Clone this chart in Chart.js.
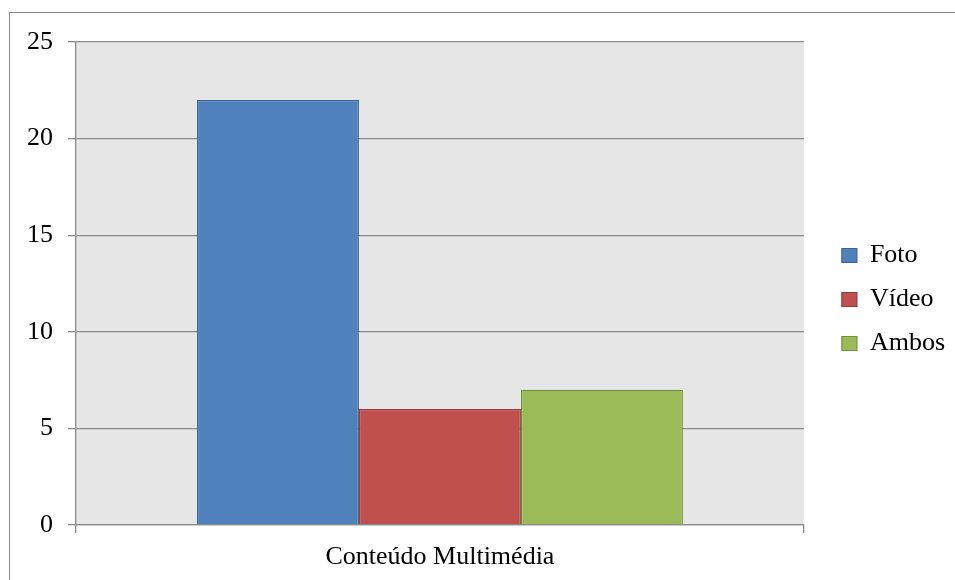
<!DOCTYPE html>
<html>
<head>
<meta charset="utf-8">
<script src="https://cdn.jsdelivr.net/npm/chart.js@4/dist/chart.umd.min.js"></script>
<style>
  html, body { margin: 0; padding: 0; background: #fff; width: 955px; height: 580px; overflow: hidden; }
  #frame { position: absolute; left: 9px; top: 12px; width: 946px; height: 568px; border-left: 1px solid #8a8a8a; border-top: 1px solid #8a8a8a; box-sizing: border-box; }
  #c { position: absolute; left: 0; top: 0; }
</style>
</head>
<body>
<div id="frame"></div>
<canvas id="c" width="955" height="580"></canvas>
<script>
const categories = ["Conteúdo Multimédia"];
const seriesNames = ["Foto", "Vídeo", "Ambos"];
const fotoValues = [22];
const videoValues = [6];
const ambosValues = [7];
const yTicks = [0, 5, 10, 15, 20, 25];

const fills = ["#4f81bd", "#c0504d", "#9bbb59"];
const borders = ["#3a6496", "#8e3b39", "#74903f"];
const seriesValues = [fotoValues, videoValues, ambosValues];

const FONT = { family: "'Liberation Serif', 'Times New Roman', serif", size: 26 };
const GRID = "#8a8a8a";

const plotBg = {
  id: "plotBg",
  beforeDraw(chart) {
    const a = chart.chartArea, ctx = chart.ctx;
    ctx.save();
    ctx.fillStyle = "#e6e6e6";
    ctx.fillRect(a.left, a.top, a.right - a.left, a.bottom - a.top);
    ctx.restore();
  }
};

new Chart(document.getElementById("c"), {
  type: "bar",
  data: {
    labels: categories,
    datasets: seriesNames.map((n, i) => ({
      label: n,
      data: seriesValues[i],
      backgroundColor: fills[i],
      borderColor: borders[i],
      borderWidth: 1.2,
      categoryPercentage: 0.6676,
      barPercentage: 1.0
    }))
  },
  options: {
    responsive: false,
    animation: false,
    layout: { padding: { top: 24, bottom: 5, left: 0, right: 0 } },
    plugins: {
      tooltip: { enabled: false },
      legend: {
        position: "right",
        align: "center",
        labels: {
          font: FONT,
          color: "#000",
          boxWidth: 15,
          boxHeight: 14,
          padding: 18
        }
      }
    },
    scales: {
      x: {
        afterFit(s) { s.height = 50; },
        grid: { display: true, offset: true, drawOnChartArea: false, drawTicks: true, tickLength: 8, color: GRID, lineWidth: 1.3 },
        border: { display: true, color: GRID, width: 1.3 },
        ticks: { font: FONT, color: "#000", padding: 9, maxRotation: 0 }
      },
      y: {
        min: 0,
        max: 25,
        afterFit(s) { s.width = 76; },
        afterBuildTicks(s) { s.ticks = yTicks.map(v => ({ value: v })); },
        grid: { color: GRID, lineWidth: 1.3, tickLength: 8, drawTicks: true },
        border: { display: true, color: GRID, width: 1.3 },
        ticks: { font: FONT, color: "#000", padding: 15, stepSize: 5 }
      },
      padTop: {
        type: "linear",
        position: "top",
        display: true,
        afterFit(s) { s.height = 18; },
        grid: { display: false, drawTicks: false },
        border: { display: false },
        ticks: { display: false }
      },
      pad: {
        type: "linear",
        position: "right",
        display: true,
        afterFit(s) { s.width = 20; },
        grid: { display: false, drawTicks: false },
        border: { display: false },
        ticks: { display: false }
      }
    }
  },
  plugins: [plotBg]
});
</script>
</body>
</html>
